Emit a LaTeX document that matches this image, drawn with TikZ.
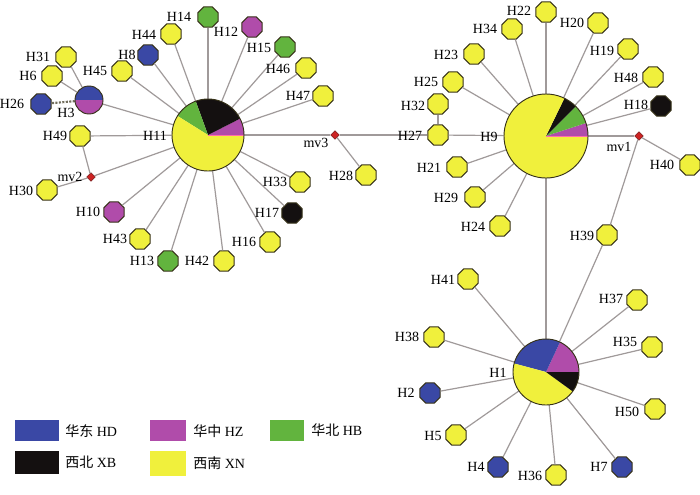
\documentclass[tikz,border=0pt]{standalone}
\usepackage{fontspec}
\setmainfont{Liberation Serif}
\newfontfamily\cjk{Noto Sans CJK SC}
\usetikzlibrary{shapes.geometric}
\definecolor{cHD}{RGB}{58,72,165}
\definecolor{cHZ}{RGB}{176,76,170}
\definecolor{cHB}{RGB}{98,180,62}
\definecolor{cXB}{RGB}{20,16,16}
\definecolor{cXN}{RGB}{240,240,60}
\definecolor{cMV}{RGB}{205,35,35}
\definecolor{cMVd}{RGB}{120,20,20}
\definecolor{cEdge}{RGB}{160,154,154}
\definecolor{cOut}{RGB}{55,50,25}
\definecolor{cPink}{RGB}{255,110,170}
\newcommand\pieseg[5]{\fill[#5] (#1.center) -- ++(#3:#2) arc[start angle=#3, end angle=#4, radius=#2] -- cycle;}
\begin{document}
\begin{tikzpicture}[x=0.75pt,y=-0.75pt,
  hap/.style={regular polygon, regular polygon sides=8, minimum size=16.5pt, inner sep=0pt, draw=cOut, line width=0.7pt},
  hapY/.style={hap, fill=cXN},
  hapD/.style={hap, fill=cHD},
  hapZ/.style={hap, fill=cHZ},
  hapB/.style={hap, fill=cHB},
  hapX/.style={hap, fill=cXB},
  mvnode/.style={diamond, fill=cMV, draw=cMVd, line width=0.4pt, minimum size=6.5pt, inner sep=0pt},
  bignode/.style={circle, inner sep=0pt},
  edge/.style={draw=cEdge, line width=0.9pt},
  outl/.style={draw=cOut, line width=0.7pt},
  lbl/.style={font=\fontsize{10.5}{12}\selectfont, inner sep=0pt},
  pinkline/.style={draw=cPink, line width=0.6pt}]
\useasboundingbox (0,0) rectangle (700,494);
\fill[white] (0,0) rectangle (700,494);

% ---------- left cluster ----------
\node[bignode, minimum size=54pt] (H11) at (208,135) {};
\node[bignode, minimum size=21pt] (H3) at (89,100) {};
\node[hapB] (H14) at (208,17) {};
\node[hapZ] (H12) at (252,27) {};
\node[hapB] (H15) at (285,47) {};
\node[hapY] (H46) at (306,68) {};
\node[hapY] (H47) at (323,96) {};
\node[hapY] (H44) at (171,34) {};
\node[hapD] (H8) at (148,55) {};
\node[hapY] (H45) at (122,71) {};
\node[hapY] (H31) at (66,57) {};
\node[hapY] (H6) at (52,76) {};
\node[hapD] (H26) at (41,104) {};
\node[hapY] (H49) at (80,136) {};
\node[mvnode] (mv2) at (91,177) {};
\node[hapY] (H30) at (47,190) {};
\node[hapZ] (H10) at (114,212) {};
\node[hapY] (H43) at (140,239) {};
\node[hapB] (H13) at (168,261) {};
\node[hapY] (H42) at (224,261) {};
\node[hapY] (H16) at (270,242) {};
\node[hapX] (H17) at (292,213) {};
\node[hapY] (H33) at (300,182) {};
\node[mvnode] (mv3) at (335,135) {};
\node[hapY] (H28) at (366,175) {};

% ---------- right cluster ----------
\node[bignode, minimum size=63pt] (H9) at (546,136) {};
\node[hapY] (H22) at (546,12) {};
\node[hapY] (H34) at (512,29) {};
\node[hapY] (H20) at (598,23) {};
\node[hapY] (H19) at (628,49) {};
\node[hapY] (H48) at (653,77) {};
\node[hapX] (H18) at (661,106) {};
\node[mvnode] (mv1) at (639,136) {};
\node[hapY] (H40) at (690,165) {};
\node[hapY] (H23) at (474,54) {};
\node[hapY] (H25) at (453,82) {};
\node[hapY] (H32) at (438,104) {};
\node[hapY] (H27) at (438,135) {};
\node[hapY] (H21) at (457,167) {};
\node[hapY] (H29) at (475,197) {};
\node[hapY] (H24) at (500,226) {};
\node[hapY] (H39) at (607,235) {};

% ---------- bottom cluster ----------
\node[bignode, minimum size=49.5pt] (H1) at (546,372) {};
\node[hapY] (H41) at (468,279) {};
\node[hapY] (H37) at (637,300) {};
\node[hapY] (H38) at (434,337) {};
\node[hapY] (H35) at (652,347) {};
\node[hapD] (H2) at (430,393) {};
\node[hapY] (H50) at (655,409) {};
\node[hapY] (H5) at (456,435) {};
\node[hapD] (H4) at (498,467) {};
\node[hapY] (H36) at (556,475) {};
\node[hapD] (H7) at (622,467) {};

% ---------- edges ----------
\foreach \n in {H14,H12,H15,H46,H47,H44,H8,H45,H3,H49,mv2,H10,H43,H13,H42,H16,H17,H33,mv3}
  \draw[edge] (H11) -- (\n);
\draw[edge] (H3) -- (H31);
\draw[edge] (H3) -- (H6);
\draw[cOut!70, line width=1.6pt, densely dotted] (H3) -- (H26);
\draw[edge] (H49) -- (mv2);
\draw[edge] (mv2) -- (H30);
\draw[edge] (mv3) -- (H28);
\draw[edge] (mv3) -- (H27);
\draw[edge] (H27) -- (H32);
\foreach \n in {H27,H22,H34,H20,H19,H48,H18,mv1,H23,H25,H21,H29,H24,H1}
  \draw[edge] (H9) -- (\n);
\draw[edge] (mv1) -- (H40);
\draw[edge] (mv1) -- (H39);
\foreach \n in {H39,H41,H37,H38,H35,H2,H50,H5,H4,H36,H7}
  \draw[edge] (H1) -- (\n);

% ---------- pies ----------
\pieseg{H11}{27pt}{0}{27}{cHZ}
\pieseg{H11}{27pt}{27}{110}{cXB}
\pieseg{H11}{27pt}{110}{148}{cHB}
\pieseg{H11}{27pt}{148}{360}{cXN}
\draw[pinkline] (H11.center) -- (H11.east);
\draw[outl] (H11.center) circle[radius=27pt];

\pieseg{H9}{31.5pt}{0}{18}{cHZ}
\pieseg{H9}{31.5pt}{18}{45}{cHB}
\pieseg{H9}{31.5pt}{45}{64}{cXB}
\pieseg{H9}{31.5pt}{64}{360}{cXN}
\draw[pinkline] (H9.center) -- (H9.east);
\draw[outl] (H9.center) circle[radius=31.5pt];

\pieseg{H1}{24.75pt}{0}{65}{cHZ}
\pieseg{H1}{24.75pt}{65}{165}{cHD}
\pieseg{H1}{24.75pt}{165}{324}{cXN}
\pieseg{H1}{24.75pt}{324}{360}{cXB}
\draw[outl] (H1.center) circle[radius=24.75pt];

\pieseg{H3}{10.5pt}{0}{180}{cHD}
\pieseg{H3}{10.5pt}{180}{360}{cHZ}
\draw[outl] (H3.center) circle[radius=10.5pt];

% ---------- labels ----------
\node[lbl] (tH14) at (179,17) {H14};
\node[lbl] (tH12) at (226,32) {H12};
\node[lbl] (tH15) at (259,48) {H15};
\node[lbl] (tH46) at (278,69) {H46};
\node[lbl] (tH47) at (298,96) {H47};
\node[lbl] (tH44) at (144,35) {H44};
\node[lbl] (tH8) at (127,55) {H8};
\node[lbl] (tH45) at (95,71) {H45};
\node[lbl] (tH31) at (38,57) {H31};
\node[lbl] (tH6) at (28,76) {H6};
\node[lbl] (tH26) at (12,104) {H26};
\node[lbl] (tH3) at (66,113) {H3};
\node[lbl] (tH49) at (55,136) {H49};
\node[lbl] (tH11) at (155,136) {H11};
\node[lbl] (tmv2) at (70,177) {mv2};
\node[lbl] (tH30) at (21,191) {H30};
\node[lbl] (tH10) at (88,212) {H10};
\node[lbl] (tH43) at (115,239) {H43};
\node[lbl] (tH13) at (142,261) {H13};
\node[lbl] (tH42) at (197,261) {H42};
\node[lbl] (tH16) at (244,242) {H16};
\node[lbl] (tH17) at (267,213) {H17};
\node[lbl] (tH33) at (275,182) {H33};
\node[lbl] (tmv3) at (316,143) {mv3};
\node[lbl] (tH28) at (341,176) {H28};

\node[lbl] (tH22) at (519,11) {H22};
\node[lbl] (tH34) at (485,29) {H34};
\node[lbl] (tH20) at (572,23) {H20};
\node[lbl] (tH19) at (602,51) {H19};
\node[lbl] (tH48) at (626,78) {H48};
\node[lbl] (tH18) at (636,105) {H18};
\node[lbl] (tH23) at (446,55) {H23};
\node[lbl] (tH25) at (426,82) {H25};
\node[lbl] (tH32) at (413,106) {H32};
\node[lbl] (tH27) at (410,136) {H27};
\node[lbl] (tH9) at (489,137) {H9};
\node[lbl] (tmv1) at (619,147) {mv1};
\node[lbl] (tH40) at (662,165) {H40};
\node[lbl] (tH21) at (429,168) {H21};
\node[lbl] (tH29) at (446,198) {H29};
\node[lbl] (tH24) at (473,227) {H24};
\node[lbl] (tH39) at (582,236) {H39};

\node[lbl] (tH41) at (443,280) {H41};
\node[lbl] (tH37) at (611,299) {H37};
\node[lbl] (tH38) at (407,337) {H38};
\node[lbl] (tH35) at (625,342) {H35};
\node[lbl] (tH1) at (498,373) {H1};
\node[lbl] (tH2) at (406,393) {H2};
\node[lbl] (tH50) at (627,412) {H50};
\node[lbl] (tH5) at (433,436) {H5};
\node[lbl] (tH4) at (476,467) {H4};
\node[lbl] (tH36) at (530,476) {H36};
\node[lbl] (tH7) at (599,467) {H7};

% ---------- legend ----------
\fill[cHD] (15,420) rectangle (59,441);
\fill[cHZ] (150,420) rectangle (186,441);
\fill[cHB] (270,420) rectangle (304,441);
\fill[cXB] (15,451) rectangle (59,474);
\fill[cXN] (150,451) rectangle (186,476);
\node[lbl, anchor=west] (lgHD) at (65,431) {{\cjk 华东} HD};
\node[lbl, anchor=west] (lgHZ) at (193,431) {{\cjk 华中} HZ};
\node[lbl, anchor=west] (lgHB) at (311,430) {{\cjk 华北} HB};
\node[lbl, anchor=west] (lgXB) at (65,462) {{\cjk 西北} XB};
\node[lbl, anchor=west] (lgXN) at (193,463) {{\cjk 西南} XN};
\end{tikzpicture}
\end{document}
